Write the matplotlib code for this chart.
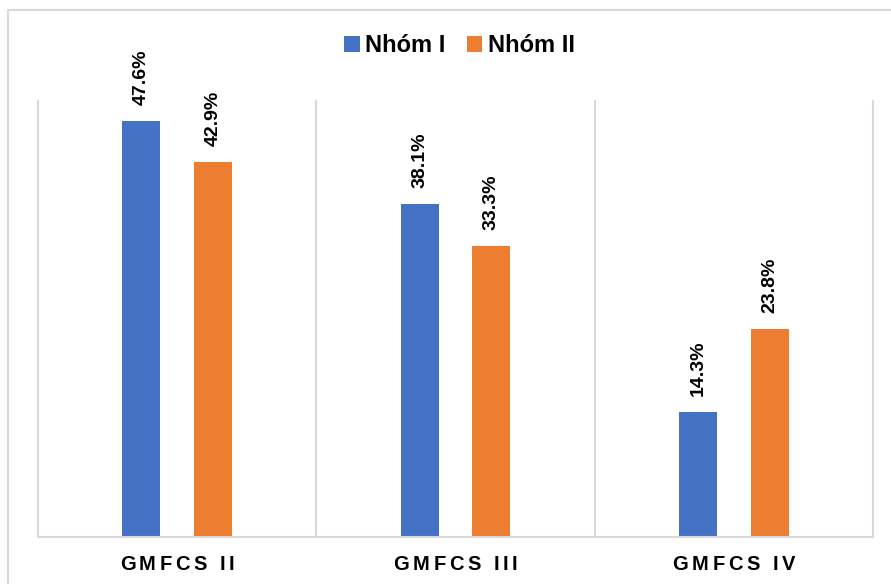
import numpy as np
import matplotlib
matplotlib.use('Agg')
import matplotlib.pyplot as plt
from matplotlib.patches import Patch, Rectangle
from matplotlib.font_manager import FontProperties
from matplotlib.textpath import text_to_path
from matplotlib.transforms import offset_copy

categories = ['GMFCS II', 'GMFCS III', 'GMFCS IV']
series_names = ['Nhóm I', 'Nhóm II']
nhom1 = [47.6, 38.1, 14.3]
nhom2 = [42.9, 33.3, 23.8]

colors = ['#4472C4', '#ED7D31']
grid_color = '#D9D9D9'
font = 'Liberation Sans'

fig = plt.figure(figsize=(8.91, 5.84), dpi=100)
ax = fig.add_axes([38 / 891, 1 - 537 / 584, 835 / 891, 437 / 584])

# outer chart border (runs off the right and bottom edges)
fig.patches.append(Rectangle((8 / 891, -0.1), 1.2, 1 - 10 / 584 + 0.1,
                             transform=fig.transFigure, fill=False,
                             edgecolor=grid_color, linewidth=1.5))

x = np.arange(len(categories))
width = 0.136
offset = 0.129
for vals, off, col in zip([nhom1, nhom2], [-offset, offset], colors):
    bars = ax.bar(x + off, vals, width=width, color=col, zorder=2)
    for b, v in zip(bars, vals):
        ax.annotate('%.1f%%' % v, (b.get_x() + b.get_width() / 2, v),
                    xytext=(0, 11.5), textcoords='offset points',
                    rotation=90, ha='center', va='bottom',
                    fontsize=14, fontweight='bold', family=font,
                    annotation_clip=False)

ax.set_xlim(-0.5, len(categories) - 0.5)
ax.set_ylim(0, 50)

# vertical separators between categories
for xv in np.arange(-0.5, len(categories), 1.0):
    ax.plot([xv, xv], [0, 50], color=grid_color, lw=1.5, zorder=1,
            solid_capstyle='butt', clip_on=False)

for s in ['top', 'left', 'right']:
    ax.spines[s].set_visible(False)
ax.spines['bottom'].set_color(grid_color)
ax.spines['bottom'].set_linewidth(1.5)
ax.set_xticks([])
ax.set_yticks([])

# category labels with extra letter spacing
prop = FontProperties(family=font, weight='bold', size=14.5)
spacing = 2.6
for xi, lab in zip(x, categories):
    widths = [text_to_path.get_text_width_height_descent(ch, prop, ismath=False)[0]
              for ch in lab]
    total = sum(widths) + spacing * (len(lab) - 1)
    pos = -total / 2
    for ch, w in zip(lab, widths):
        tr = offset_copy(ax.get_xaxis_transform(), fig=fig, x=pos, y=-24,
                         units='points')
        ax.text(xi, 0, ch, transform=tr, ha='left', va='baseline',
                fontproperties=prop, clip_on=False)
        pos += w + spacing

handles = [Patch(facecolor=c) for c in colors]
fig.legend(handles, series_names, loc='center', bbox_to_anchor=(0.516, 1 - 46 / 584),
           ncol=2, frameon=False, handlelength=0.65, handleheight=0.65,
           handletextpad=0.25, columnspacing=0.9,
           prop={'family': font, 'weight': 'bold', 'size': 17})

fig.savefig('out.png', dpi=100)
